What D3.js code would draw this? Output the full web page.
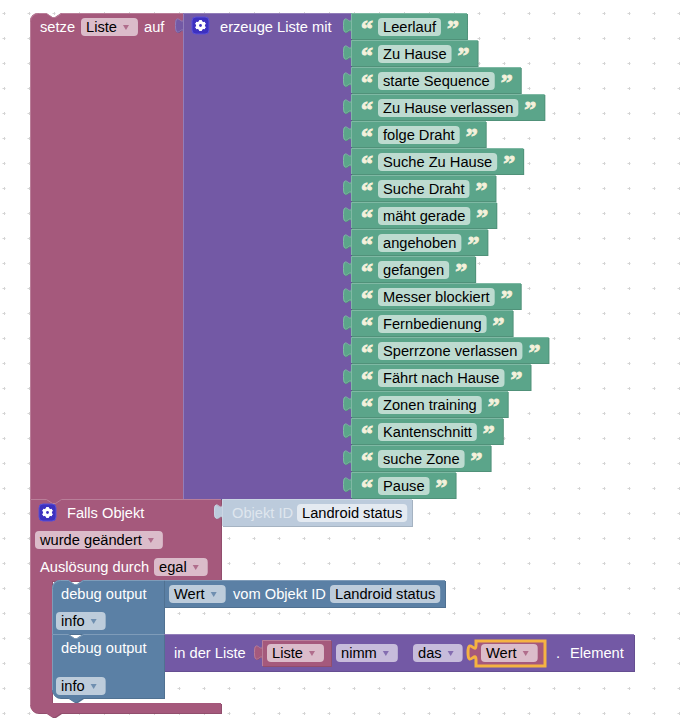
<!DOCTYPE html>
<html>
<head>
<meta charset="utf-8">
<script src="https://cdn.jsdelivr.net/npm/d3@7"></script>
<style>
html, body { margin: 0; padding: 0; background: #fff; }
svg { display: block; }
text { font-family: "Liberation Sans", Arial, sans-serif; font-size: 11pt; white-space: pre; }
</style>
</head>
<body>
<svg id="chart" width="680" height="722"></svg>
<script>
const listItems = ['Leerlauf', 'Zu Hause', 'starte Sequence', 'Zu Hause verlassen', 'folge Draht',
    'Suche Zu Hause', 'Suche Draht', 'mäht gerade', 'angehoben', 'gefangen', 'Messer blockiert',
    'Fernbedienung', 'Sperrzone verlassen', 'Fährt nach Hause', 'Zonen training', 'Kantenschnitt',
    'suche Zone', 'Pause'];
const objectName = 'Landroid status';
const RED = '#a5597c';
const PURPLE = '#7359a5';
const GREEN = '#5ba58a';
const BLUE = '#5b80a5';
const PALE = '#bccbdc';
const GRID_STEP = 25;

const svg = d3.select('#chart');
const rowScale = d3.scaleBand().domain(listItems).range([13, 499]);

// grid of plus marks behind the workspace
const gridLayer = svg.append('g').attr('stroke', '#d4d4d4').attr('stroke-width', 1);
d3.range(4, 680, GRID_STEP).forEach(function(x) {
    d3.range(13, 722, GRID_STEP).forEach(function(y) {
        gridLayer.append('path').attr('d', `M${x - 1.5},${y + 0.5}h3M${x + 0.5},${y - 1}v3`);
    });
});

const measure = svg.append('text').attr('x', 100).attr('y', 100).attr('visibility', 'hidden');
function textWidth(str) {
    measure.text(str);
    const w = measure.node().getComputedTextLength();
    measure.text('');
    return w;
}

function shade(color, amount) {
    return amount > 0 ? d3.interpolateRgb(color, '#fff')(amount) : d3.interpolateRgb(color, '#000')(-amount);
}

function tabPath(x, y) {
    return `M${x},${y}c0,10 -8,-8 -8,7.5s8,-2.5 8,7.5`;
}

function notchDown(direction) {
    return direction > 0 ? 'l6,4 3,0 6,-4' : 'l-6,4 -3,0 -6,-4';
}

// block body: plain rect with optional rounded corner, notch, bump and output tab
function block(x, y, w, h, color, opts) {
    opts = opts || {};
    const r = opts.round ? 8 : 0;
    let d = r ? `M${x},${y + r}a${r},${r} 0 0 1 ${r},${-r}` : `M${x},${y}`;
    if (opts.notch) {
        d += `H${x + 16}${notchDown(1)}`;
    }
    d += `H${x + w}V${y + h}`;
    if (opts.bump) {
        d += `H${x + 31}${notchDown(-1)}`;
    }
    const rb = opts.roundBottom ? 8 : 0;
    d += rb ? `H${x + rb}a${rb},${rb} 0 0 1 ${-rb},${-rb}` : `H${x}`;
    if (opts.tab) {
        d += `V${y + 20}c0,-10 -8,8 -8,-7.5s8,2.5 8,-7.5`;
    }
    d += 'Z';
    svg.append('path').attr('d', d).attr('transform', 'translate(1,1)').attr('fill', shade(color, -0.12));
    svg.append('path').attr('d', d).attr('fill', color);
    // light edge on top and left
    const edge = shade(color, 0.22);
    svg.append('path').attr('fill', 'none').attr('stroke', edge).attr('stroke-width', 1)
        .attr('d', `M${x + 0.5},${y + h - rb}V${y + r + 0.5}` + (r ? `a${r},${r} 0 0 1 ${r},${-r}` : '') +
            (opts.notch ? `H${x + 16.5}${notchDown(1)}` : '') + `H${x + w}`);
    if (opts.tab) {
        svg.append('path').attr('d', tabPath(x + 0.5, y + 5)).attr('fill', 'none').attr('stroke', edge).attr('stroke-width', 1);
    }
}

function label(x, y, str, color) {
    svg.append('text').attr('x', x).attr('y', y).attr('fill', color || '#fff').text(str);
}

// text field: translucent rounded pill, dark text, optional dropdown arrow. returns right edge
function field(x, baseline, str, color, dropdown) {
    const w = textWidth(str) + (dropdown ? 26 : 10);
    svg.append('rect').attr('x', x).attr('y', baseline - 14).attr('width', w).attr('height', 18)
        .attr('rx', 4).attr('fill', '#fff').attr('fill-opacity', 0.6);
    svg.append('text').attr('x', x + 5).attr('y', baseline).attr('fill', '#000').text(str);
    if (dropdown) {
        const ax = x + w - 15;
        svg.append('path').attr('d', `M${ax},${baseline - 7}h6l-3,5Z`).attr('fill', color).attr('fill-opacity', 0.8);
    }
    return x + w;
}

function gear(x, y) {
    svg.append('rect').attr('x', x).attr('y', y).attr('width', 17).attr('height', 17).attr('rx', 4)
        .attr('fill', '#3d31c0').attr('stroke', '#5a50d8').attr('stroke-width', 1);
    const cx = x + 8.5, cy = y + 8.5;
    const teeth = svg.append('g').attr('transform', `translate(${cx},${cy})`);
    d3.range(0, 360, 60).forEach(function(a) {
        teeth.append('rect').attr('x', -1.3).attr('y', -5.3).attr('width', 2.6).attr('height', 10.6)
            .attr('fill', '#fff').attr('transform', `rotate(${a})`);
    });
    teeth.append('circle').attr('r', 3.4).attr('fill', 'none').attr('stroke', '#fff').attr('stroke-width', 2.2);
    teeth.append('circle').attr('r', 1.4).attr('fill', '#3d31c0');
}

function quote(x, baseline, glyph) {
    svg.append('text').attr('x', x).attr('y', baseline).attr('fill', '#f4f1dc')
        .attr('stroke', '#f4f1dc').attr('stroke-width', 0.9)
        .style('font-family', '"Liberation Serif", serif').style('font-weight', 'bold').style('font-size', '24px')
        .text(glyph);
}

// setze block
block(30, 13, 153, 486, RED, { round: true, notch: true });
label(40, 32, 'setze');
field(81, 32, 'Liste', RED, true);
label(144, 32, 'auf');

// list block
block(183, 13, 168, 486, PURPLE, { tab: true });
gear(192, 17);
label(220, 32, 'erzeuge Liste mit');

// string rows
listItems.forEach(function(item) {
    const y = rowScale(item);
    const rowH = rowScale.bandwidth();
    const w = textWidth(item) + 63;
    block(351, y, w, rowH - 1, GREEN, { tab: true });
    quote(361, y + 23, '“');
    const end = field(378, y + 19, item, GREEN, false);
    quote(end + 6, y + 23, '”');
});

// trigger block wrapping the debug statements
const triggerTop = 499;
const triggerShape = `M30,${triggerTop}H221V581H52V703H221V713H61${notchDown(-1)}H38a8,8 0 0 1 -8,-8Z`;
svg.append('path').attr('transform', 'translate(1,1)').attr('fill', shade(RED, -0.12)).attr('d', triggerShape);
svg.append('path').attr('fill', RED).attr('d', triggerShape);
svg.append('path').attr('fill', 'none').attr('stroke', shade(RED, 0.22))
    .attr('d', `M30.5,705V${triggerTop + 0.5}H46.5${notchDown(1)}H221`);
gear(39, 504);
label(67, 518, 'Falls Objekt');
field(35, 545, 'wurde geändert', RED, true);
label(40, 572, 'Auslösung durch');
field(154, 572, 'egal', RED, true);

block(222, 499, 190, 27, PALE, { tab: true });
label(232, 518, 'Objekt ID', '#dfe6ee');
field(297, 518, objectName, PALE, false);

// first debug output
block(164, 580, 281, 27, BLUE, { tab: true });
block(52, 580, 112, 54, BLUE, { round: true, notch: true });
label(61, 599, 'debug output');
field(169, 599, 'Wert', BLUE, true);
label(233, 599, 'vom Objekt ID');
field(330, 599, objectName, BLUE, false);
field(56, 626, 'info', BLUE, true);

// second debug output
block(164, 634, 470, 37, PURPLE, { tab: true });
block(52, 634, 112, 64, BLUE, { notch: true, bump: true, roundBottom: true });
label(61, 653, 'debug output');
field(56, 691, 'info', BLUE, true);
label(174, 658, 'in der Liste');

block(262, 640, 69, 26, RED, { tab: true });
field(267, 658, 'Liste', RED, true);
field(336, 658, 'nimm', PURPLE, true);
field(413, 658, 'das', PURPLE, true);

// selected value block with yellow outline
const sel = 'M476,641H545V666H476V660c0,-10 -8,8 -8,-7.5s8,2.5 8,-7.5Z';
svg.append('path').attr('d', sel).attr('fill', RED).attr('stroke', '#f5b342').attr('stroke-width', 3);
field(481, 658, 'Wert', RED, true);
label(556, 658, '.');
label(570, 658, 'Element');
measure.remove();
</script>
</body>
</html>
